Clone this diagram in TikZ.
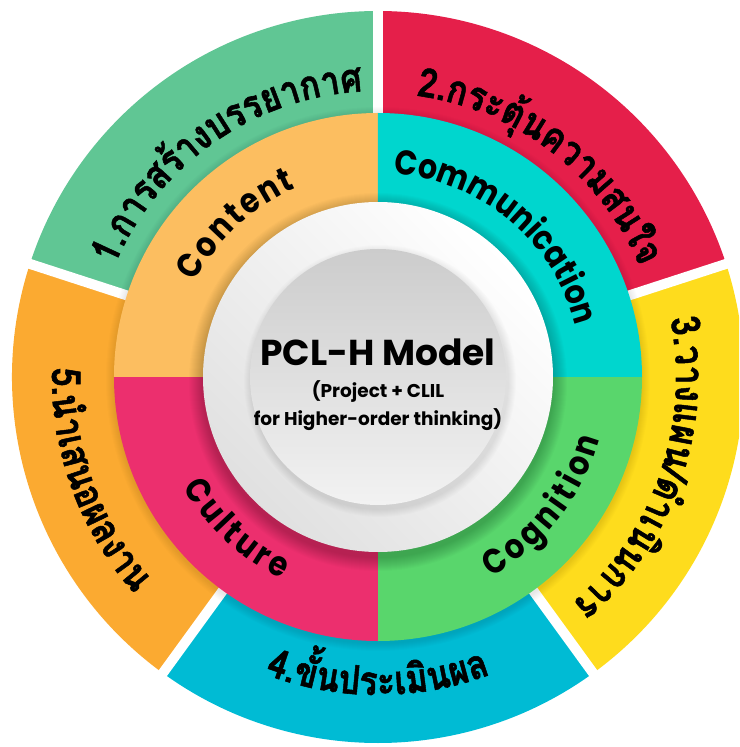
\documentclass[tikz,border=0pt]{standalone}
\usepackage{fontspec}
\setmainfont{Poppins}
\newfontfamily\thaifont[Script=Thai, BoldFeatures={FakeBold=1.4}]{Loma}
\definecolor{oGreen}{HTML}{60C694}
\definecolor{oRed}{HTML}{E51F4A}
\definecolor{oYellow}{HTML}{FEDC1D}
\definecolor{oCyan}{HTML}{00BBD4}
\definecolor{oOrange}{HTML}{FBAA31}
\definecolor{iContent}{HTML}{FCBE60}
\definecolor{iComm}{HTML}{00D6CE}
\definecolor{iCog}{HTML}{59D66C}
\definecolor{iCult}{HTML}{EC2F6E}
\newdimen\clw
\newdimen\cltot
\newdimen\cltrack
% #1 name, #2 font, #3 baseline radius, #4 mid angle, #5 direction (1 cw tops out, -1 ccw tops in), #6 list macro
\newcommand\preparc[6]{%
  \global\cltot=0pt
  \foreach \cl in #6 {\settowidth{\clw}{#2\cl}\advance\clw by \cltrack\global\advance\cltot by \clw}%
  \global\advance\cltot by -\cltrack
  \pgfmathsetmacro\clspan{\the\cltot/(#3)*57.29578}%
  \pgfmathsetmacro\clstart{#4+(#5)*\clspan/2}%
  \xdef\clcur{\clstart}%
  \foreach \cl [count=\ci] in #6 {%
    \settowidth{\clw}{#2\cl}%
    \pgfmathsetmacro\clhalf{\the\clw/(#3)*28.64789}%
    \pgfmathsetmacro\clstep{\the\cltrack/(#3)*57.29578}%
    \pgfmathsetmacro\clang{\clcur-(#5)*\clhalf}%
    \expandafter\xdef\csname ang#1\ci\endcsname{\clang}%
    \pgfmathsetmacro\clnext{\clcur-(#5)*(2*\clhalf+\clstep)}%
    \xdef\clcur{\clnext}%
  }%
}
% #1 name, #2 font, #3 radius, #4 direction, #5 list macro
\newcommand\drawarc[5]{%
  \foreach \cl [count=\ci] in #5 {%
    \pgfmathsetmacro\clang{\csname ang#1\ci\endcsname}%
    \node[glyph, rotate=\clang-(#4)*90] at (\clang:#3) {\scalebox{1}[\clvs]{#2\cl}};%
  }%
}
\newcommand\thaiL{\thaifont\bfseries\fontsize{34}{40}\selectfont}
\newcommand\engL{\bfseries\fontsize{30}{36}\selectfont}
\def\listContent{C,o,n,t,e,n,t}
\def\listComm{C,o,m,m,u,n,i,c,a,t,i,o,n}
\def\listCog{C,o,g,n,i,t,i,o,n}
\def\listCult{C,u,l,t,u,r,e}
\def\listA{1,{.},ก,า,ร,ส,ร้,า,ง,บ,ร,ร,ย,า,ก,า,ศ}
\def\listB{2,{.},ก,ร,ะ,ตุ้,น,ค,ว,า,ม,ส,น,ใ,จ}
\def\listC{3,{.},ว,า,ง,แ,ผ,น,/,ดำ,เ,นิ,น,ก,า,ร}
\def\listD{4,{.},ขั้,น,ป,ร,ะ,เ,มิ,น,ผ,ล}
\def\listE{5,{.},นำ,เ,ส,น,อ,ผ,ล,ง,า,น}
\begin{document}
\global\cltrack=2.5pt
\preparc{Content}{\engL}{206}{133}{1}{\listContent}%
\global\cltrack=0pt
\preparc{Comm}{\engL}{204}{50}{1}{\listComm}%
\global\cltrack=3.5pt
\preparc{Cog}{\engL}{230}{-38}{-1}{\listCog}%
\global\cltrack=3.5pt
\preparc{Cult}{\engL}{224}{227}{-1}{\listCult}%
\global\cltrack=0pt
\preparc{A}{\thaiL}{286}{125}{1}{\listA}%
\preparc{B}{\thaiL}{284}{52.5}{1}{\listB}%
\preparc{C}{\thaiL}{298}{-19}{1}{\listC}%
\preparc{D}{\thaiL}{318}{-90}{-1}{\listD}%
\preparc{E}{\thaiL}{326}{200}{-1}{\listE}%
\begin{tikzpicture}[x=1pt,y=1pt,
  glyph/.style={anchor=base, inner sep=0pt, outer sep=0pt, text=black},
  gap/.style={white, line width=10pt}]
\useasboundingbox (-378,-370) rectangle (361,377);
\clip (-378,-370) rectangle (361,377);
\fill[white] (-378,-370) rectangle (361,377);
\def\Ro{366}
\def\Ri{264}
% outer ring sectors
\fill[oGreen]  (0,0) -- (90:\Ro)   arc[start angle=90,  end angle=162, radius=\Ro] -- cycle;
\fill[oRed]    (0,0) -- (18:\Ro)   arc[start angle=18,  end angle=90,  radius=\Ro] -- cycle;
\fill[oYellow] (0,0) -- (-54:\Ro)  arc[start angle=-54, end angle=18,  radius=\Ro] -- cycle;
\fill[oCyan]   (0,0) -- (-126:\Ro) arc[start angle=-126,end angle=-54, radius=\Ro] -- cycle;
\fill[oOrange] (0,0) -- (162:\Ro)  arc[start angle=162, end angle=234, radius=\Ro] -- cycle;
\coordinate (c) at (0,0);
\foreach \g in {90,18,-54,-126,162} \draw[gap] (c) -- (\g:390);
% soft shadow of inner ring
\foreach \k in {1,...,8} \fill[black,opacity=0.012] (0,-2) circle (\Ri+\k);
% inner ring sectors
\fill[iContent] (0,0) -- (90:\Ri)  arc[start angle=90,  end angle=180, radius=\Ri] -- cycle;
\fill[iComm]    (0,0) -- (0:\Ri)   arc[start angle=0,   end angle=90,  radius=\Ri] -- cycle;
\fill[iCog]     (0,0) -- (-90:\Ri) arc[start angle=-90, end angle=0,   radius=\Ri] -- cycle;
\fill[iCult]    (0,0) -- (180:\Ri) arc[start angle=180, end angle=270, radius=\Ri] -- cycle;
% shadow of centre disk
\foreach \k in {1,...,14} \fill[black,opacity=0.014] (0,-5) circle (175+\k);
\shade[left color=white, right color=black!12, shading angle=-45] (0,0) circle (175);
\foreach \k in {1,...,8} \fill[black,opacity=0.012] (2,-4) circle (128+\k);
\shade[top color=black!20, bottom color=black!5] (0,0) circle (128);
% centre text
\node[text=black, font=\bfseries\fontsize{36}{40}\selectfont] (title) at (0,25) {PCL-H Model};
\node[text=black, font=\bfseries\fontsize{18.5}{28}\selectfont, align=center] (sub) at (0,-29)
  {(Project + CLIL\\for Higher-order thinking)};
% inner labels
\def\clvs{1.15}
\drawarc{Content}{\engL}{206}{1}{\listContent}
\drawarc{Comm}{\engL}{204}{1}{\listComm}
\drawarc{Cog}{\engL}{230}{-1}{\listCog}
\drawarc{Cult}{\engL}{224}{-1}{\listCult}
% outer labels
\def\clvs{1.18}
\drawarc{A}{\thaiL}{286}{1}{\listA}
\drawarc{B}{\thaiL}{284}{1}{\listB}
\drawarc{C}{\thaiL}{298}{1}{\listC}
\drawarc{D}{\thaiL}{318}{-1}{\listD}
\drawarc{E}{\thaiL}{326}{-1}{\listE}
\end{tikzpicture}
\end{document}
